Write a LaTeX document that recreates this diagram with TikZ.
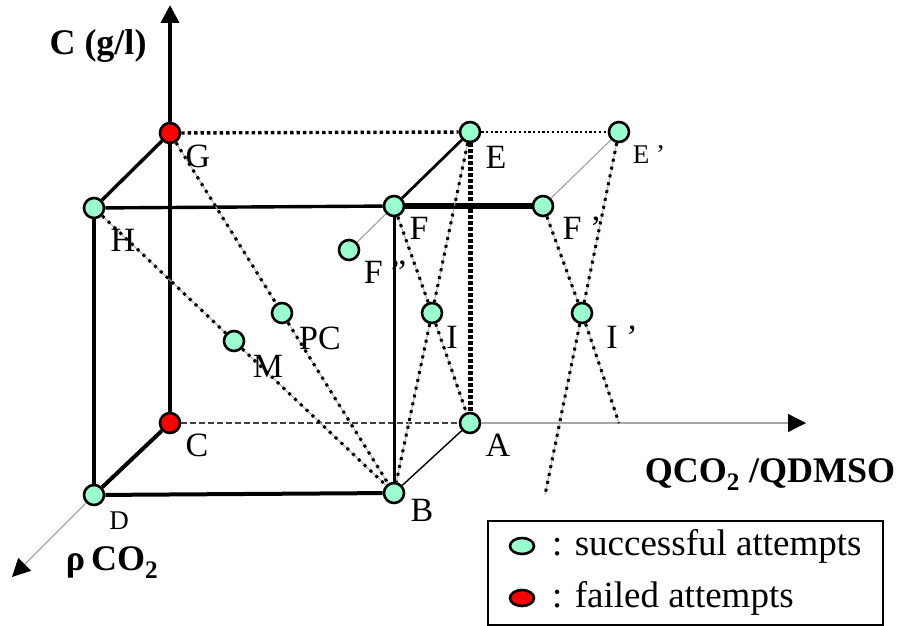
\documentclass[tikz,border=0pt]{standalone}
\usepackage{fontspec}
\setmainfont{Liberation Serif}
\usetikzlibrary{shapes.geometric,arrows.meta}
\definecolor{mint}{RGB}{153,255,204}
\begin{document}
\begin{tikzpicture}
  [x=1pt,y=-1pt,
   good/.style={circle,draw,line width=2.6pt,fill=mint,minimum size=20pt,inner sep=0pt},
   bad/.style={good,fill=red},
   lbl/.style={font=\fontsize{34}{40}\selectfont,inner sep=0pt},
   small/.style={font=\fontsize{27}{32}\selectfont,inner sep=0pt},
   axlbl/.style={font=\fontsize{36}{42}\selectfont\bfseries,inner sep=0pt,anchor=base},
   legtxt/.style={font=\fontsize{37}{44}\selectfont,inner sep=0pt,anchor=west},
   tip/.style={-{Triangle[length=18pt,width=18pt,color=black]}},
   diag/.style={gray!60,line width=1pt,
     postaction={draw=black,line width=3pt,dash pattern=on 3pt off 5pt}}]
  \useasboundingbox (0,0) rectangle (897,626);

  % points of the cube
  \node[good] (pD) at (94,495)  {};
  \node[good] (pH) at (94,208)  {};
  \node[good] (pF) at (394,206) {};
  \node[good] (pB) at (394,493) {};
  \node[bad]  (pC) at (170,423) {};
  \node[bad]  (pG) at (170,133) {};
  \node[good] (pE) at (470,132) {};
  \node[good] (pA) at (470,423) {};
  \node[good] (pEp) at (619,132) {};
  \node[good] (pFp) at (543,206) {};
  \node[good] (pFpp) at (349,250) {};
  \node[good] (pI) at (432,313) {};
  \node[good] (pIp) at (582,313) {};
  \node[good] (pPC) at (282,313) {};
  \node[good] (pM) at (234,341) {};
  \coordinate (aa) at (619,423);
  \coordinate (bb) at (545,495);
  \coordinate (ytip) at (170,5);
  \coordinate (xtip) at (806,423);
  \coordinate (ztip) at (12,577);

  % axes
  \draw[line width=4pt] (pC) -- (pG);
  \draw[line width=4pt,tip] (pG) -- (ytip);
  \draw[line width=4pt] (pC) -- (pD);
  \draw[gray!70,line width=1.2pt,tip] (pD) -- (ztip);
  \draw[black!75,line width=1.4pt,dash pattern=on 6pt off 3pt] (pC) -- (pA);
  \draw[gray!70,line width=1.2pt,tip] (pA) -- (xtip);

  % cube edges
  \draw[line width=4pt] (pD) -- (pB);
  \draw[line width=3.4pt] (pD) -- (pH);
  \draw[line width=3.4pt] (pH) -- (pF);
  \draw[line width=3.4pt] (pH) -- (pG);
  \draw[line width=3pt] (pF) -- (pB);
  \draw[line width=2.8pt] (pF) -- (pE);
  \draw[line width=1.4pt] (pB) -- (pA);
  \draw[line width=6pt] (pF) -- (pFp);
  \draw[gray!70,line width=1.2pt] (pFp) -- (pEp);
  \draw[gray!70,line width=1.2pt] (pF) -- (pFpp);
  \draw[line width=3.4pt,dash pattern=on 3.4pt off 3pt] (pG) -- (pE);
  \draw[line width=2.2pt,dash pattern=on 2.2pt off 2.5pt] (pE) -- (pEp);
  \draw[line width=5pt,dash pattern=on 3.5pt off 2.5pt] (pE) -- (pA);

  \foreach \from/\to in {pG/pPC,pPC/pB,pH/pM,pM/pB,pE/pI,pI/pB,pF/pI,pI/pA,
                         pFp/pIp,pIp/aa,pEp/pIp,pIp/bb}
    \draw[diag] (\from) -- (\to);

  % labels
  \node[lbl] (lG) at (198,156) {G};
  \node[lbl] (lH) at (123,240) {H};
  \node[lbl] (lE) at (496,157) {E};
  \node[small] (lEp) at (649,155) {E ’};
  \node[lbl] (lF) at (419,228) {F};
  \node[lbl] (lFp) at (582,228) {F ’};
  \node[lbl] (lFpp) at (385,272) {F "};
  \node[lbl] (lI) at (452,337) {I};
  \node[lbl] (lIp) at (622,337) {I ’};
  \node[lbl] (lPC) at (320,338) {PC};
  \node[lbl] (lM) at (268,366) {M};
  \node[lbl] (lC) at (197,445) {C};
  \node[lbl] (lA) at (498,445) {A};
  \node[lbl] (lB) at (422,510) {B};
  \node[small] (lD) at (119,521) {D};
  \node[axlbl] (yl) at (98,55) {C (g/l)};
  \node[axlbl] (xl) at (770,482) {QCO\textsubscript{2} /QDMSO};
  \node[axlbl] (zl) at (112,570) {ρ\,CO\textsubscript{2}};

  % legend
  \draw[line width=2.6pt] (488,521) rectangle (883,625);
  \node[ellipse,draw,line width=2.6pt,fill=mint,minimum width=24pt,minimum height=16pt,inner sep=0pt] (k1) at (522,546) {};
  \node[ellipse,draw,line width=2.6pt,fill=red,minimum width=24pt,minimum height=16pt,inner sep=0pt] (k2) at (522,598) {};
  \node[legtxt] (t1) at (552,546) {: successful attempts};
  \node[legtxt] (t2) at (552,598) {: failed attempts};
\end{tikzpicture}
\end{document}
